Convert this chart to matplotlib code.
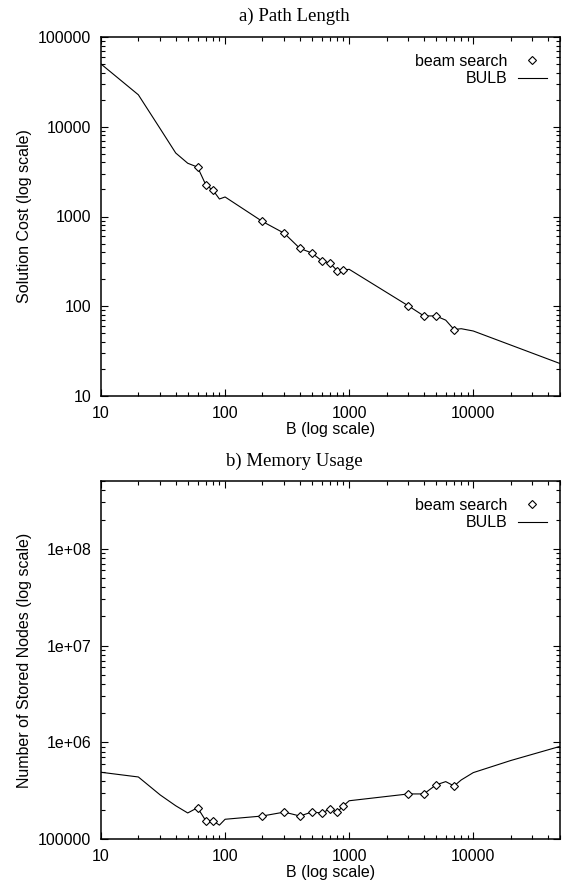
import matplotlib
matplotlib.use("Agg")
import matplotlib.pyplot as plt
from matplotlib.ticker import FixedLocator, FixedFormatter, LogLocator, NullFormatter

# ---- data ----
beam_B = [60, 70, 80, 200, 300, 400, 500, 600, 700, 800, 900, 3000, 4000, 5000, 7000]
beam_cost = [3550, 2245, 1960, 880, 650, 442, 392, 322, 303, 249, 253, 101, 78, 78, 55]
beam_mem = [212000, 155000, 155000, 174000, 191000, 174000, 191000, 187000, 205000,
            191000, 222000, 294000, 294000, 364000, 355000]

bulb_B = [10, 20, 30, 40, 50, 60, 70, 80, 90, 100, 200, 300, 400, 500, 600, 700, 800, 900,
          1000, 3000, 4000, 5000, 6000, 7000, 8000, 10000, 20000, 50000]
bulb_cost = [50000, 22700, 9500, 5100, 3920, 3550, 2245, 1960, 1567, 1650, 880, 650, 442, 392,
             322, 303, 249, 253, 258, 101, 78, 78, 70, 55, 56.2, 53, 37, 23]
bulb_mem = [492000, 440000, 287000, 222000, 187000, 212000, 155000, 155000, 140000, 161000,
            174000, 191000, 174000, 191000, 187000, 205000, 191000, 222000, 250000, 294000,
            294000, 364000, 394000, 355000, 410000, 488000, 650000, 910000]

x_ticks = [10, 100, 1000, 10000]
x_ticklabels = ["10", "100", "1000", "10000"]
cost_ticks = [10, 100, 1000, 10000, 100000]
cost_ticklabels = ["10", "100", "1000", "10000", "100000"]
mem_ticks = [1e5, 1e6, 1e7, 1e8]
mem_ticklabels = ["100000", "1e+06", "1e+07", "1e+08"]

titles = ["a) Path Length", "b) Memory Usage"]
ylabels = ["Solution Cost (log scale)", "Number of Stored Nodes (log scale)"]
xlabel = "B (log scale)"

W, H = 567, 882
fig = plt.figure(figsize=(W / 100, H / 100), dpi=100)

sans = ["Liberation Sans", "DejaVu Sans"]
serif = ["Liberation Serif", "DejaVu Serif"]

def make_axes(top_px, bot_px):
    left, right = 101, 560
    return fig.add_axes([left / W, 1 - bot_px / H, (right - left) / W, (bot_px - top_px) / H])

ax1 = make_axes(37, 396)
ax2 = make_axes(481, 839.3)

panels = [
    (ax1, beam_cost, bulb_cost, (10, 100000), cost_ticks, cost_ticklabels, 16),
    (ax2, beam_mem, bulb_mem, (1e5, 5e8), mem_ticks, mem_ticklabels, 461.5),
]

for i, (ax, beam_y, bulb_y, ylim, yt, ytl, title_y) in enumerate(panels):
    ax.plot(bulb_B, bulb_y, color="black", lw=0.8, label="BULB", zorder=2)
    ax.plot(beam_B, beam_y, linestyle="none", marker="D", ms=4.4, mfc="white",
            mec="black", mew=0.8, label="beam search", zorder=3)
    ax.set_xscale("log")
    ax.set_yscale("log")
    ax.set_xlim(10, 50000)
    ax.set_ylim(*ylim)
    ax.xaxis.set_major_locator(FixedLocator(x_ticks))
    ax.xaxis.set_major_formatter(FixedFormatter(x_ticklabels))
    ax.xaxis.set_minor_locator(LogLocator(base=10, subs=range(2, 10), numticks=20))
    ax.xaxis.set_minor_formatter(NullFormatter())
    ax.yaxis.set_major_locator(FixedLocator(yt))
    ax.yaxis.set_major_formatter(FixedFormatter(ytl))
    ax.yaxis.set_minor_locator(LogLocator(base=10, subs=range(2, 10), numticks=20))
    ax.yaxis.set_minor_formatter(NullFormatter())
    ax.tick_params(which="both", direction="in", top=True, right=True, color="black", width=0.8)
    ax.tick_params(which="major", length=5, pad=7, labelsize=11.5)
    ax.tick_params(which="minor", length=2.6)
    for lab in ax.get_xticklabels() + ax.get_yticklabels():
        lab.set_family(sans)
    for s in ax.spines.values():
        s.set_linewidth(1.1)
    ax.set_xlabel(xlabel, fontsize=11.5, family=sans, labelpad=1)
    ax.set_ylabel(ylabels[i], fontsize=11.5, family=sans, labelpad=4)
    handles, labels = ax.get_legend_handles_labels()
    ax.legend(handles[::-1], labels[::-1], loc="upper right", markerfirst=False,
              frameon=False, prop={"family": sans, "size": 11.5},
              handlelength=1.8, handletextpad=0.63, labelspacing=0.15,
              borderaxespad=0.6, bbox_to_anchor=(1 + 2.6 / 459, 1 - 1.0 / 359))
    fig.text(294 / W, 1 - title_y / H, titles[i], ha="center", va="center",
             fontsize=13.5, family=serif)

fig.savefig("out.png", dpi=100)
